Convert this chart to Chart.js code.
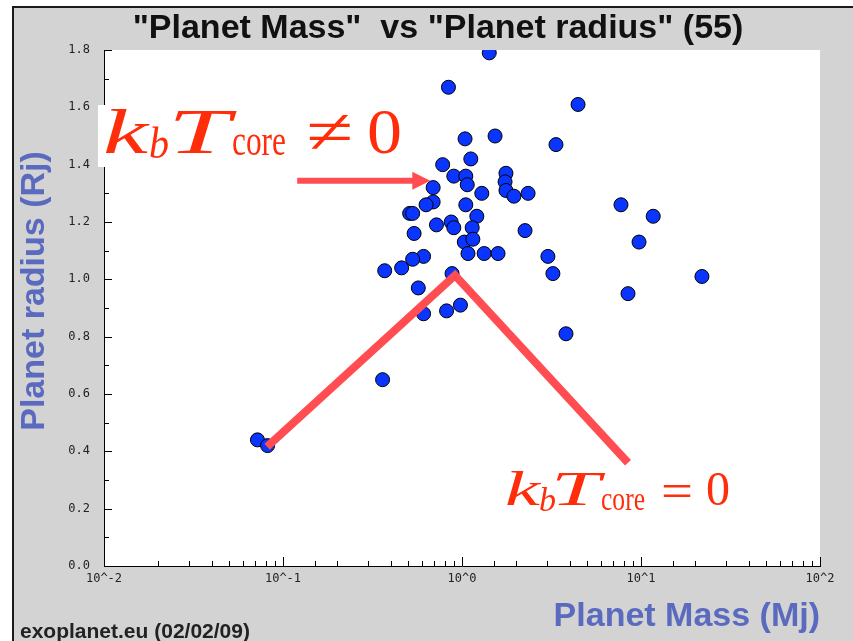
<!DOCTYPE html>
<html>
<head>
<meta charset="utf-8">
<script src="https://cdn.jsdelivr.net/npm/chart.js@4.4.1/dist/chart.umd.min.js"></script>
<style>
  html, body { margin: 0; padding: 0; background: #fff; }
  canvas { display: block; }
</style>
</head>
<body>
<canvas id="massRadiusChart" width="853" height="641"></canvas>
<script>
// planet mass (Mj) and radius (Rj)
const planetMass = [1.42, 0.84, 4.45, 1.04, 1.53, 3.35, 1.12, 0.78, 0.90, 1.05,
  1.07, 0.69, 1.76, 1.74, 1.76, 1.95, 2.34, 1.29, 0.69, 0.63,
  1.05, 1.21, 0.51, 0.53, 7.73, 0.72, 0.87, 0.90, 1.14, 1.03,
  1.15, 0.54, 2.25, 1.08, 1.33, 1.59, 3.02, 3.22, 0.61, 0.53,
  0.46, 0.37, 0.88, 0.57, 0.61, 0.82, 0.98, 3.81, 8.46, 9.75,
  11.7, 21.9, 0.36, 0.072, 0.082]
const planetRadius = [1.79, 1.67, 1.61, 1.49, 1.50, 1.47, 1.42, 1.40, 1.36, 1.36,
  1.33, 1.32, 1.37, 1.34, 1.31, 1.29, 1.30, 1.30, 1.27, 1.26,
  1.26, 1.22, 1.23, 1.23, 1.26, 1.19, 1.20, 1.18, 1.18, 1.13,
  1.14, 1.16, 1.17, 1.09, 1.09, 1.09, 1.08, 1.02, 1.08, 1.07,
  1.04, 1.03, 1.02, 0.97, 0.88, 0.89, 0.91, 0.81, 0.95, 1.13,
  1.22, 1.01, 0.65, 0.44, 0.42]

const xTickValues = [0.01, 0.1, 1, 10, 100]
const xTickLabels = ["10^-2", "10^-1", "10^0", "10^1", "10^2"]
const yTickValues = [0, 0.2, 0.4, 0.6, 0.8, 1.0, 1.2, 1.4, 1.6, 1.8]
const yTickLabels = ["0.0", "0.2", "0.4", "0.6", "0.8", "1.0", "1.2", "1.4", "1.6", "1.8"]

// hand-drawn guide lines (in data units)
const coreLineMass = [0.0815, 0.914, 8.46]
const coreLineRadius = [0.416, 1.014, 0.36]
const arrowMass = [0.12, 0.665]
const arrowRadius = [1.344, 1.344]

const axisBlue = "#5a6abf"
const markRed = "#ff4d52"
const textRed = "#ff2d0a"

function findTick(value, values, log) {
  return values.findIndex((v) => log
    ? Math.abs(Math.log10(v) - Math.log10(value)) < 1e-6
    : Math.abs(v - value) < 1e-6)
}

function drawStretched(ctx, text, font, x, baseline, width) {
  ctx.font = font
  const natural = ctx.measureText(text).width
  ctx.save()
  ctx.translate(x, baseline)
  ctx.scale(width / natural, 1)
  ctx.fillText(text, 0, 0)
  ctx.restore()
}

const serif = "'Liberation Serif', 'DejaVu Serif', serif"
const sans = "'Liberation Sans', Arial, sans-serif"

const frame = {
  id: "frame",
  beforeDraw(chart) {
    const { ctx, chartArea: a, width, height } = chart
    ctx.save()
    ctx.fillStyle = "#fff"
    ctx.fillRect(0, 0, width, height)
    ctx.fillStyle = "#d3d3d3"
    ctx.fillRect(13, 7, width - 13, height - 7)
    ctx.fillStyle = "#1a1a1a"
    ctx.fillRect(12, 6, width - 12, 2)
    ctx.fillRect(12, 6, 2, height - 6)
    ctx.fillStyle = "#fff"
    ctx.fillRect(a.left, a.top, a.right - a.left, a.bottom - a.top)
    ctx.restore()
  }
}

const overlay = {
  id: "overlay",
  afterDraw(chart) {
    const { ctx, chartArea: a, scales: { x, y } } = chart
    ctx.save()

    // tick marks point into the plot
    ctx.strokeStyle = "#000"
    ctx.lineWidth = 1
    ctx.beginPath()
    x.ticks.forEach((t) => {
      const px = Math.round(x.getPixelForValue(t.value)) + 0.5
      const len = findTick(t.value, xTickValues, true) >= 0 ? 9 : 5
      ctx.moveTo(px, a.bottom)
      ctx.lineTo(px, a.bottom - len)
    })
    y.ticks.forEach((t) => {
      const py = Math.round(y.getPixelForValue(t.value)) + 0.5
      const len = findTick(t.value, yTickValues, false) >= 0 ? 8 : 5
      ctx.moveTo(a.left, py)
      ctx.lineTo(a.left + len, py)
    })
    ctx.stroke()

    // titles
    ctx.fillStyle = "#111"
    ctx.font = `bold 34px ${sans}`
    ctx.textAlign = "center"
    ctx.textBaseline = "alphabetic"
    ctx.fillText("\"Planet Mass\"  vs \"Planet radius\" (55)", 438, 38)

    ctx.fillStyle = axisBlue
    ctx.textAlign = "right"
    ctx.fillText("Planet Mass (Mj)", a.right, 626)

    ctx.save()
    ctx.translate(44, 291)
    ctx.rotate(-Math.PI / 2)
    ctx.textAlign = "center"
    ctx.fillText("Planet radius (Rj)", 0, 0)
    ctx.restore()

    ctx.fillStyle = "#222"
    ctx.textAlign = "left"
    ctx.font = `bold 21px ${sans}`
    ctx.fillText("exoplanet.eu (02/02/09)", 20, 638)

    // label box over the y axis
    ctx.fillStyle = "#fff"
    ctx.fillRect(98, 105, 314, 62)

    ctx.fillStyle = textRed
    ctx.textAlign = "left"
    drawStretched(ctx, "k", `italic 64px ${serif}`, 103, 153, 45)
    drawStretched(ctx, "b", `italic 44px ${serif}`, 149, 158, 20)
    drawStretched(ctx, "T", `italic 64px ${serif}`, 168, 153, 62)
    drawStretched(ctx, "core", `44px ${serif}`, 232, 155, 54)
    drawStretched(ctx, "\u2260", `64px ${serif}`, 306, 153, 47)
    drawStretched(ctx, "0", `64px ${serif}`, 367, 153, 35)

    drawStretched(ctx, "k", `italic 48px ${serif}`, 505, 505, 35)
    drawStretched(ctx, "b", `italic 33px ${serif}`, 539, 511, 17)
    drawStretched(ctx, "T", `italic 48px ${serif}`, 551, 505, 49)
    drawStretched(ctx, "core", `33px ${serif}`, 601, 510, 44)
    drawStretched(ctx, "=", `48px ${serif}`, 661, 507, 32)
    drawStretched(ctx, "0", `48px ${serif}`, 706, 505, 24)

    // arrow
    const ax0 = x.getPixelForValue(arrowMass[0])
    const ax1 = x.getPixelForValue(arrowMass[1])
    const ay = y.getPixelForValue(arrowRadius[0])
    ctx.strokeStyle = markRed
    ctx.fillStyle = markRed
    ctx.lineWidth = 6
    ctx.beginPath()
    ctx.moveTo(ax0, ay)
    ctx.lineTo(ax1 - 16, ay)
    ctx.stroke()
    ctx.beginPath()
    ctx.moveTo(ax1 - 18, ay - 9)
    ctx.lineTo(ax1, ay)
    ctx.lineTo(ax1 - 18, ay + 9)
    ctx.closePath()
    ctx.fill()

    ctx.restore()
  }
}

new Chart(document.getElementById("massRadiusChart"), {
  type: "scatter",
  data: {
    datasets: [
      {
        label: "Planets",
        data: planetMass.map((m, i) => ({ x: m, y: planetRadius[i] })),
        backgroundColor: "#0a35ff",
        borderColor: "#000",
        borderWidth: 1,
        pointRadius: 7,
        order: 1
      },
      {
        label: "core line",
        data: coreLineMass.map((m, i) => ({ x: m, y: coreLineRadius[i] })),
        showLine: true,
        borderColor: markRed,
        borderWidth: 8,
        borderCapStyle: "butt",
        borderJoinStyle: "miter",
        pointRadius: 0,
        order: 0
      }
    ]
  },
  options: {
    responsive: false,
    animation: false,
    layout: { padding: { left: 0, top: 50, right: 33, bottom: 0 } },
    plugins: {
      legend: { display: false },
      tooltip: { enabled: false }
    },
    scales: {
      x: {
        type: "logarithmic",
        min: 0.01,
        max: 100,
        grid: { display: false, drawTicks: false },
        border: { display: true, color: "#000", width: 1 },
        ticks: {
          autoSkip: false,
          maxRotation: 0,
          padding: 6,
          color: "#222",
          font: { family: "'DejaVu Sans Mono', monospace", size: 12 },
          callback(value) {
            const i = findTick(value, xTickValues, true)
            return i >= 0 ? xTickLabels[i] : ""
          }
        },
        afterFit(scale) { scale.height = 75 }
      },
      y: {
        min: 0,
        max: 1.8,
        grid: { display: false, drawTicks: false },
        border: { display: true, color: "#000", width: 1 },
        ticks: {
          stepSize: 0.1,
          autoSkip: false,
          padding: 14,
          color: "#222",
          font: { family: "'DejaVu Sans Mono', monospace", size: 12 },
          callback(value) {
            const i = findTick(value, yTickValues, false)
            return i >= 0 ? yTickLabels[i] : ""
          }
        },
        afterFit(scale) { scale.width = 104 }
      }
    }
  },
  plugins: [frame, overlay]
})
</script>
</body>
</html>
